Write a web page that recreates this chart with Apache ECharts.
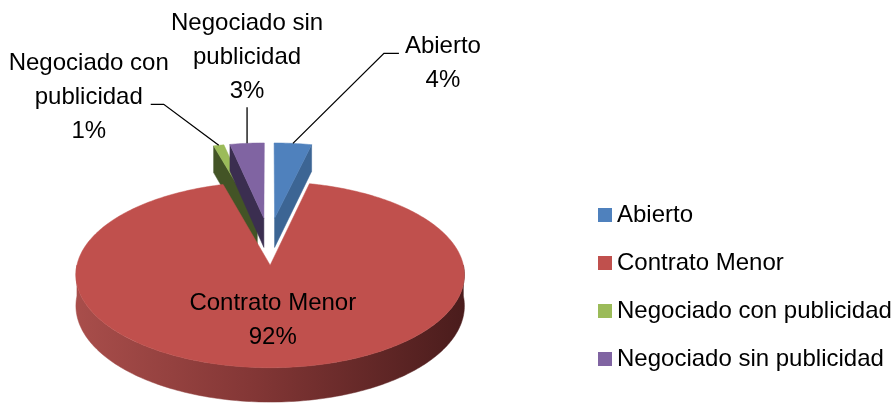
<!DOCTYPE html>
<html><head><meta charset="utf-8">
<script src="https://cdn.jsdelivr.net/npm/echarts@6/dist/echarts.min.js"></script>
<style>html,body{margin:0;padding:0;background:#fff}#c{width:895px;height:408px}</style>
</head><body><div id="c"></div>
<script>
// ---- data ----
const categories = ['Abierto', 'Contrato Menor', 'Negociado con publicidad', 'Negociado sin publicidad'];
const values = [3.6, 92.1, 1.0, 3.3];
const labelNames = ['Abierto', 'Contrato Menor', 'Negociado con\npublicidad', 'Negociado sin\npublicidad'];

// ---- styles / layout ----
const colors = ['#4F81BD', '#C0504D', '#9BBB59', '#8064A2'];
const wallColors = ['#3C6594', '#7a3330', '#435426', '#3B2E50'];
const PIE = {cx: 269, cy: 241, rx: 188, ry: 87.1, k: 0.1, depth: 30, explode: 0.27};
const FONT = 'Liberation Sans';
const labelLayout = [
  {mode: 'out', label: [150, -80], line: [[91, -90], [106, -90]]},
  {mode: 'in', r: 0.57},
  {mode: 'out', label: [-130, -48], line: [[-55, -41], [-68, -41]]},
  {mode: 'out', label: [0, -86], line: [[0, -36]]}
];
const drawOrder = [2, 3, 0, 1];

const total = values.reduce((a, b) => a + b, 0);
const startAng = [], endAng = [];
let acc = 0;
values.forEach((v, i) => { startAng[i] = acc / total * 360; acc += v; endAng[i] = acc / total * 360; });

function makeRender(i) {
  return function (params, api) {
    const a0 = api.value(0), a1 = api.value(1), v = api.value(2);
    const bisDeg = (a0 + a1) / 2, bis = bisDeg * Math.PI / 180;
    const du = PIE.explode * Math.sin(bis), dv = -PIE.explode * Math.cos(bis);
    function P(r, deg, d) {
      const t = deg * Math.PI / 180;
      const u = du + r * Math.sin(t), vv = dv - r * Math.cos(t);
      const w = 1 / (1 - PIE.k * vv);
      return [PIE.cx + PIE.rx * u * w, PIE.cy + PIE.ry * vv * w + PIE.depth * w * d];
    }
    function arc(from, to, d) {
      const pts = [], n = Math.max(2, Math.ceil((to - from) / 1));
      for (let j = 0; j <= n; j++) pts.push(P(1, from + (to - from) * j / n, d));
      return pts;
    }
    const poly = (pts, fill) => ({type: 'polygon', shape: {points: pts}, style: {fill: fill, stroke: fill, lineWidth: 0.5}});
    const children = [];
    if (Math.sin(a0 * Math.PI / 180) < -1e-6) children.push(poly([P(0, a0, 0), P(1, a0, 0), P(1, a0, 1), P(0, a0, 1)], wallColors[i]));
    if (Math.sin(a1 * Math.PI / 180) > 1e-6) children.push(poly([P(0, a1, 0), P(1, a1, 0), P(1, a1, 1), P(0, a1, 1)], wallColors[i]));
    const f = Math.max(a0, 90), t = Math.min(a1, 270);
    if (t > f) {
      const grad = {type: 'linear', x: PIE.cx - PIE.rx - 8, y: 0, x2: PIE.cx + PIE.rx + 8, y2: 0, global: true,
        colorStops: [{offset: 0, color: '#a94e4b'}, {offset: 0.45, color: '#843736'}, {offset: 1, color: '#4a1c1c'}]};
      children.push(poly(arc(f, t, 0).concat(arc(f, t, 1).reverse()), grad));
    }
    children.push(poly([P(0, a0, 0)].concat(arc(a0, a1, 0)), colors[i]));

    const txt = labelNames[i] + '\n' + Math.round(v / total * 100) + '%';
    const L = labelLayout[i];
    let tx, ty;
    if (L.mode === 'out') {
      const an = P(1, bisDeg, 0);
      const pts = [an].concat(L.line.map(o => [an[0] + o[0], an[1] + o[1]]));
      children.push({type: 'polyline', shape: {points: pts}, style: {stroke: '#000', lineWidth: 1.3, fill: null}});
      tx = an[0] + L.label[0]; ty = an[1] + L.label[1];
    } else {
      const p = P(L.r, bisDeg, 0); tx = p[0]; ty = p[1];
    }
    children.push({type: 'text', z2: 10, style: {text: txt, x: tx, y: ty, fill: '#000', fontSize: 24, fontFamily: FONT,
      align: 'center', verticalAlign: 'middle', lineHeight: 34}});
    return {type: 'group', children: children};
  };
}

const chart = echarts.init(document.getElementById('c'));
chart.setOption({
  animation: false,
  backgroundColor: '#fff',
  legend: {
    orient: 'vertical', left: 593, top: 198, itemWidth: 14, itemHeight: 14, itemGap: 24, icon: 'rect',
    data: categories, selectedMode: false,
    textStyle: {fontSize: 24, fontFamily: FONT, color: '#000', lineHeight: 24}
  },
  series: drawOrder.map(i => ({
    type: 'custom', name: categories[i], coordinateSystem: 'none', silent: true,
    itemStyle: {color: colors[i]},
    data: [[startAng[i], endAng[i], values[i]]],
    renderItem: makeRender(i)
  }))
});
</script></body></html>
